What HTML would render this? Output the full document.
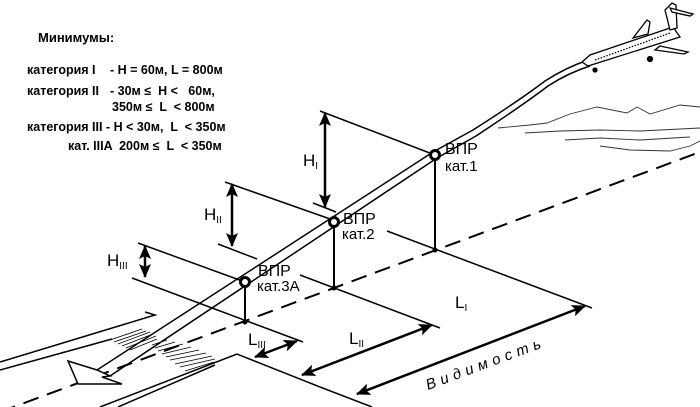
<!DOCTYPE html>
<html><head><meta charset="utf-8"><style>
html,body{margin:0;padding:0;background:#fff;}
svg{display:block;}
text{font-family:"Liberation Sans",Arial,sans-serif;fill:#000;}
</style></head><body>
<svg width="700" height="407" viewBox="0 0 700 407" xmlns="http://www.w3.org/2000/svg">
<defs>
<marker id="ah" markerWidth="14" markerHeight="12" refX="13" refY="6" orient="auto-start-reverse" markerUnits="userSpaceOnUse">
<path d="M0,0 L14,6 L0,12 L3,6 Z" fill="#000"/>
</marker>
</defs>
<!-- text block -->
<g font-weight="bold" font-size="12.5">
<text x="38" y="42" font-size="13">Минимумы:</text>
<text x="27" y="74">категория I</text><text x="110" y="74">- H = 60м, L = 800м</text>
<text x="27" y="95">категория II</text><text x="110" y="95">- 30м ≤ &#160;H &lt; &#160;&#160;60м,</text>
<text x="112" y="111">350м ≤ &#160;L &#160;&lt; 800м</text>
<text x="27" y="131">категория III - H &lt; 30м, &#160;L &#160;&lt; 350м</text>
<text x="68" y="150">кат. IIIA &#160;200м ≤ &#160;L &#160;&lt; 350м</text>
</g>

<g stroke="#000" fill="none" stroke-width="1.5">
<!-- dashed centerline -->
<line x1="0" y1="412" x2="700" y2="152" stroke-dasharray="16,9" stroke-width="2"/>
<!-- reference/ground lines -->
<line x1="320" y1="111" x2="435" y2="155"/>
<line x1="313" y1="203" x2="336" y2="212"/>
<line x1="387" y1="231" x2="592" y2="308"/>
<line x1="225" y1="182" x2="333" y2="220"/>
<line x1="218" y1="244" x2="257" y2="259"/>
<line x1="300" y1="275" x2="440" y2="328"/>
<line x1="138" y1="243" x2="245" y2="282"/>
<line x1="132" y1="278" x2="303" y2="342"/>
<!-- verticals -->
<line x1="435" y1="155" x2="435" y2="250" stroke-width="2"/>
<line x1="334" y1="222" x2="334" y2="288" stroke-width="2"/>
<line x1="245" y1="282" x2="245" y2="322" stroke-width="2"/>
<!-- runway -->
<polyline points="0,362 155,315 145,312"/>
<line x1="0" y1="370" x2="112" y2="339"/>
<polyline points="100,407 237,354 320,387"/>
<line x1="320" y1="387" x2="372" y2="407"/>
<line x1="118" y1="407" x2="215" y2="365"/>
</g>
<!-- hatching -->
<g stroke="#000" stroke-width="0.8">
<line x1="110" y1="340" x2="142" y2="329"/><line x1="114" y1="342" x2="146" y2="331"/><line x1="118" y1="344" x2="150" y2="332"/><line x1="122" y1="346" x2="153" y2="334"/><line x1="126" y1="348" x2="156" y2="336"/><line x1="130" y1="350" x2="157" y2="339"/>
<line x1="152" y1="345" x2="167" y2="340"/><line x1="155" y1="348" x2="175" y2="342"/><line x1="158" y1="351" x2="183" y2="344"/><line x1="162" y1="354" x2="191" y2="347"/><line x1="166" y1="357" x2="199" y2="350"/><line x1="170" y1="360" x2="206" y2="353"/><line x1="175" y1="364" x2="212" y2="356"/><line x1="180" y1="367" x2="215" y2="359"/><line x1="185" y1="371" x2="214" y2="362"/>
</g>
<g fill="#000">
<circle cx="435" cy="250" r="2.5"/><circle cx="334" cy="288" r="2.5"/><circle cx="245" cy="322" r="2.5"/>
</g>
<!-- glide path double line -->
<g stroke="#000" fill="none" stroke-width="1.5">
<path d="M97,370 L433,152 L473,130 Q520,100 545,81 Q565,68 588,60"/>
<path d="M110,376 L437,158 L476,136 Q523,105 548,86 Q568,73 590,66"/>
</g>
<polygon points="68,361 97,370 110,376 102,377 122,384 78,384" fill="#fff" stroke="#000" stroke-width="1.5"/>
<!-- circles -->
<g fill="#fff" stroke="#000" stroke-width="3">
<circle cx="435" cy="155" r="4.5"/><circle cx="334" cy="222" r="4.5"/><circle cx="245" cy="282" r="4.5"/>
</g>
<!-- H arrows -->
<g stroke="#000" stroke-width="2.5" marker-end="url(#ah)" marker-start="url(#ah)">
<line x1="325" y1="207" x2="325" y2="113" />
<line x1="232" y1="246" x2="232" y2="184"/>
<line x1="145" y1="277" x2="145" y2="246"/>
<line x1="255" y1="357" x2="297" y2="341"/>
<line x1="302" y1="375" x2="432" y2="325"/>
<line x1="357" y1="394" x2="585" y2="306"/>
</g>
<!-- labels -->
<g font-size="17">
<text x="303" y="166">H<tspan font-size="10" dy="3">I</tspan></text>
<text x="204" y="220">H<tspan font-size="10" dy="3">II</tspan></text>
<text x="107" y="266">H<tspan font-size="10" dy="3">III</tspan></text>
<text x="248" y="345">L<tspan font-size="10" dy="3">III</tspan></text>
<text x="349" y="344">L<tspan font-size="10" dy="3">II</tspan></text>
<text x="455" y="308">L<tspan font-size="10" dy="3">I</tspan></text>
</g>
<g font-size="16">
<text x="445" y="154">ВПР</text><text x="445" y="171" font-size="15">кат.1</text>
<text x="343" y="224">ВПР</text><text x="342" y="239" font-size="15">кат.2</text>
<text x="258" y="276">ВПР</text><text x="257" y="291" font-size="15">кат.3А</text>
</g>
<text x="428" y="390" font-size="15" font-style="italic" letter-spacing="5" transform="rotate(-20.4 428 390)">Видимость</text>
<!-- mountains -->
<g stroke="#333" fill="none" stroke-width="0.9">
<polyline points="498,128 530,125 547,123 570,114 597,107 627,113 637,107 650,114 680,105 700,107"/>
<polyline points="525,133 560,131 600,130 640,131 700,128"/>
<polyline points="565,140 600,138 640,140 690,137"/>
<polyline points="600,146 630,150 670,151 690,146 700,141"/>
</g>
<!-- plane -->
<g stroke="#000" stroke-width="1.3" fill="#fff">
<polygon points="633,38 647,20 650,22 648,34"/>
<polygon points="582,62 590,55 673,27 680,37 588,66"/>
<polygon points="660,46 688,52 684,54 655,50"/>
<polygon points="665,10 672,3 676,5 677,28 670,30"/>
<polygon points="670,8 693,14 690,16 672,12"/>
<line x1="595" y1="60" x2="670" y2="33" stroke-dasharray="1.5,1.5"/>
<circle cx="650" cy="59" r="2.5" fill="#000"/><circle cx="595" cy="70" r="2" fill="#000"/>
</g>
</svg>
</body></html>
